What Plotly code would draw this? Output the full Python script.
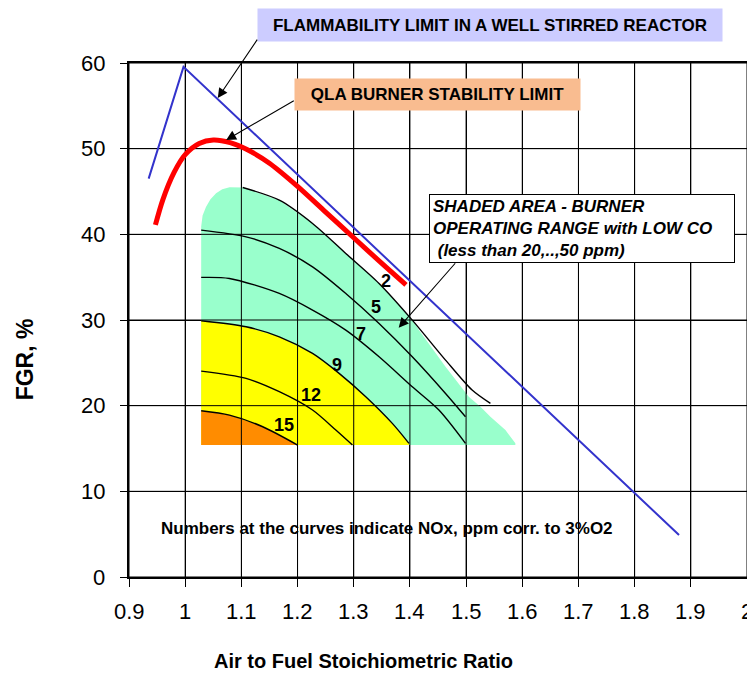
import plotly.graph_objects as go

# ---------------- data ----------------
x_range = [0.9, 2.0]
y_range = [0, 60]
x_ticks = [0.9, 1.0, 1.1, 1.2, 1.3, 1.4, 1.5, 1.6, 1.7, 1.8, 1.9, 2.0]
x_tick_labels = ["0.9", "1", "1.1", "1.2", "1.3", "1.4", "1.5", "1.6", "1.7", "1.8", "1.9", "2"]
y_ticks = [0, 10, 20, 30, 40, 50, 60]
y_tick_labels = ["0", "10", "20", "30", "40", "50", "60"]

# Flammability limit in a well stirred reactor (blue)
flam_x = [0.935, 0.997, 1.879]
flam_y = [46.5, 59.55, 4.9]

# QLA burner stability limit (red)
qla_x = [0.947, 0.960, 0.980, 1.000, 1.025, 1.050, 1.080, 1.110, 1.150, 1.200, 1.250, 1.300, 1.350, 1.393]
qla_y = [41.1, 44.0, 47.2, 49.3, 50.6, 51.0, 50.7, 49.9, 48.3, 45.6, 42.6, 39.6, 36.6, 34.1]

# NOx iso-lines (ppm corr. to 3% O2)
nox2_x = [1.1024, 1.1675, 1.2267, 1.2859, 1.3451, 1.4042, 1.4634, 1.5107, 1.5433]
nox2_y = [45.47, 43.99, 41.27, 37.77, 34.27, 29.99, 25.32, 21.82, 20.26]
nox5_x = [1.0285, 1.1084, 1.1675, 1.2267, 1.2859, 1.3451, 1.4042, 1.4634, 1.4989]
nox5_y = [40.49, 39.71, 38.35, 36.21, 33.10, 29.60, 25.71, 21.43, 18.71]
nox7_x = [1.0285, 1.0788, 1.1675, 1.2267, 1.2859, 1.3451, 1.4042, 1.4516, 1.4989]
nox7_y = [34.97, 34.85, 33.10, 31.16, 28.82, 25.71, 22.21, 19.49, 15.60]
nox9_x = [1.0285, 1.1084, 1.1675, 1.2267, 1.2740, 1.3214, 1.3687, 1.3983]
nox9_y = [29.91, 29.21, 28.04, 26.10, 23.77, 21.04, 17.93, 15.60]
nox12_x = [1.0285, 1.1084, 1.1675, 1.2267, 1.2681, 1.2977]
nox12_y = [24.03, 23.18, 21.63, 19.49, 17.15, 15.40]
nox15_x = [1.0285, 1.0788, 1.1380, 1.2001]
nox15_y = [19.41, 18.90, 17.54, 15.40]

# operating range (shaded) boundary pieces
range_left_x = 1.0285
range_bottom_y = 15.4
green_corner_x = [1.0285, 1.031, 1.037, 1.045, 1.055, 1.066, 1.079]
green_corner_y = [40.9, 42.2, 43.2, 44.1, 44.8, 45.25, 45.5]
green_edge_x = [1.416, 1.4634, 1.5048, 1.5256, 1.5433, 1.570, 1.5877]
green_edge_y = [28.82, 24.54, 21.04, 19.88, 18.71, 17.15, 15.60]

curve_labels = ["2", "5", "7", "9", "12", "15"]
label_x = [1.357, 1.339, 1.313, 1.271, 1.224, 1.176]
label_y = [34.5, 31.5, 28.4, 24.7, 21.2, 17.7]

FONT = "Arial, Liberation Sans, Helvetica, sans-serif"

fig = go.Figure()

# ---------------- shaded areas ----------------
gx = [range_left_x] + green_corner_x + nox2_x[:6] + green_edge_x + [green_edge_x[-1]]
gy = [range_bottom_y] + green_corner_y + nox2_y[:6] + green_edge_y + [range_bottom_y]
fig.add_trace(go.Scatter(x=gx, y=gy, mode="lines", fill="toself", fillcolor="#99ffcc",
                         line=dict(width=0, color="#99ffcc")))

yx = [range_left_x] + nox9_x + [nox9_x[-1]]
yy = [range_bottom_y] + nox9_y + [range_bottom_y]
fig.add_trace(go.Scatter(x=yx, y=yy, mode="lines", fill="toself", fillcolor="#ffff00",
                         line=dict(width=0, color="#ffff00")))

ox = [range_left_x] + nox15_x + [nox15_x[-1]]
oy = [range_bottom_y] + nox15_y + [range_bottom_y]
fig.add_trace(go.Scatter(x=ox, y=oy, mode="lines", fill="toself", fillcolor="#ff8c00",
                         line=dict(width=0, color="#ff8c00")))

# ---------------- grid (drawn above the shading, below the curves) ----------------
for t in x_ticks:
    fig.add_trace(go.Scatter(x=[t, t], y=list(y_range), mode="lines",
                             line=dict(color="black", width=1)))
for t in y_ticks:
    fig.add_trace(go.Scatter(x=list(x_range), y=[t, t], mode="lines",
                             line=dict(color="black", width=1)))

# ---------------- NOx iso-lines ----------------
for cx, cy in [(nox2_x, nox2_y), (nox5_x, nox5_y), (nox7_x, nox7_y),
               (nox9_x, nox9_y), (nox12_x, nox12_y), (nox15_x, nox15_y)]:
    fig.add_trace(go.Scatter(x=cx, y=cy, mode="lines",
                             line=dict(color="black", width=1.4, shape="spline", smoothing=0.8)))

# ---------------- limits ----------------
fig.add_trace(go.Scatter(x=qla_x, y=qla_y, mode="lines",
                         line=dict(color="#ff0000", width=5, shape="spline", smoothing=0.8)))
fig.add_trace(go.Scatter(x=flam_x, y=flam_y, mode="lines",
                         line=dict(color="#3333cc", width=2)))

annotations = []
for t, lx, ly in zip(curve_labels, label_x, label_y):
    annotations.append(dict(x=lx, y=ly, xref="x", yref="y", text="<b>" + t + "</b>",
                            showarrow=False, font=dict(family=FONT, size=18, color="black")))

# tick labels
for t, lab in zip(x_ticks, x_tick_labels):
    annotations.append(dict(x=(t - x_range[0]) / (x_range[1] - x_range[0]), y=0,
                            xref="paper", yref="paper", xanchor="center", yanchor="middle",
                            yshift=-34, text=lab, showarrow=False,
                            font=dict(family=FONT, size=22, color="black")))
for t, lab in zip(y_ticks, y_tick_labels):
    annotations.append(dict(x=0, y=(t - y_range[0]) / (y_range[1] - y_range[0]),
                            xref="paper", yref="paper", xanchor="right", yanchor="middle",
                            xshift=-22, text=lab, showarrow=False,
                            font=dict(family=FONT, size=22, color="black")))

# boxes
annotations.append(dict(x=0.5839, y=1.0739, xref="paper", yref="paper",
                        xanchor="center", yanchor="middle",
                        text="<b>FLAMMABILITY LIMIT IN A WELL STIRRED REACTOR</b>",
                        showarrow=False, bgcolor="#ccccff", width=460, height=28, borderpad=2,
                        font=dict(family=FONT, size=17, color="black")))
annotations.append(dict(x=1.4488, y=56.3, xref="x", yref="y",
                        text="<b>QLA BURNER STABILITY LIMIT</b>",
                        showarrow=False, bgcolor="#f9bc90", width=281, height=27, borderpad=2,
                        font=dict(family=FONT, size=17, color="black")))
annotations.append(dict(x=1.707, y=40.67, xref="x", yref="y",
                        text="<b><i>SHADED AREA - BURNER<br>OPERATING RANGE with LOW CO<br>&nbsp;(less than 20,..,50 ppm)</i></b>",
                        showarrow=False, bgcolor="white", bordercolor="black", borderwidth=1,
                        width=298, height=61, borderpad=3, align="left",
                        font=dict(family=FONT, size=17, color="black")))
annotations.append(dict(x=1.360, y=5.7, xref="x", yref="y",
                        text="<b>Numbers at the curves indicate NOx, ppm corr. to 3%O2</b>",
                        showarrow=False, font=dict(family=FONT, size=17, color="black")))

# arrows
for hx, hy, tx, ty in [(1.058, 55.9, 1.130, 62.9), (1.073, 51.0, 1.196, 55.7), (1.380, 29.1, 1.483, 36.8)]:
    annotations.append(dict(x=hx, y=hy, ax=tx, ay=ty, xref="x", yref="y", axref="x", ayref="y",
                            text="", showarrow=True, arrowhead=2, arrowsize=1.8, arrowwidth=1.1,
                            arrowcolor="black", standoff=0, startstandoff=0))

# axis titles
annotations.append(dict(x=0.3798, y=-0.1634, xref="paper", yref="paper",
                        xanchor="center", yanchor="middle",
                        text="<b>Air to Fuel Stoichiometric Ratio</b>", showarrow=False,
                        font=dict(family=FONT, size=20, color="black")))
annotations.append(dict(x=-0.1677, y=0.4241, xref="paper", yref="paper", textangle=-90,
                        xanchor="center", yanchor="middle",
                        text="<b>FGR, %</b>", showarrow=False,
                        font=dict(family=FONT, size=23, color="black")))

fig.update_layout(
    width=747, height=665,
    margin=dict(l=121, r=6, t=55, b=96),
    paper_bgcolor="white", plot_bgcolor="white",
    showlegend=False,
    annotations=annotations,
    font=dict(family=FONT, color="black"),
)
fig.update_xaxes(range=x_range, tickvals=x_ticks, showticklabels=False,
                 showgrid=True, gridcolor="black", gridwidth=1, zeroline=False,
                 showline=True, linecolor="black", linewidth=1.5, mirror=True,
                 ticks="outside", ticklen=8, tickcolor="black", tickwidth=1.2)
fig.update_yaxes(range=y_range, tickvals=y_ticks, showticklabels=False,
                 showgrid=True, gridcolor="black", gridwidth=1, zeroline=False,
                 showline=True, linecolor="black", linewidth=1.5, mirror=True,
                 ticks="outside", ticklen=7, tickcolor="black", tickwidth=1.2)

fig.write_html("out.html")
